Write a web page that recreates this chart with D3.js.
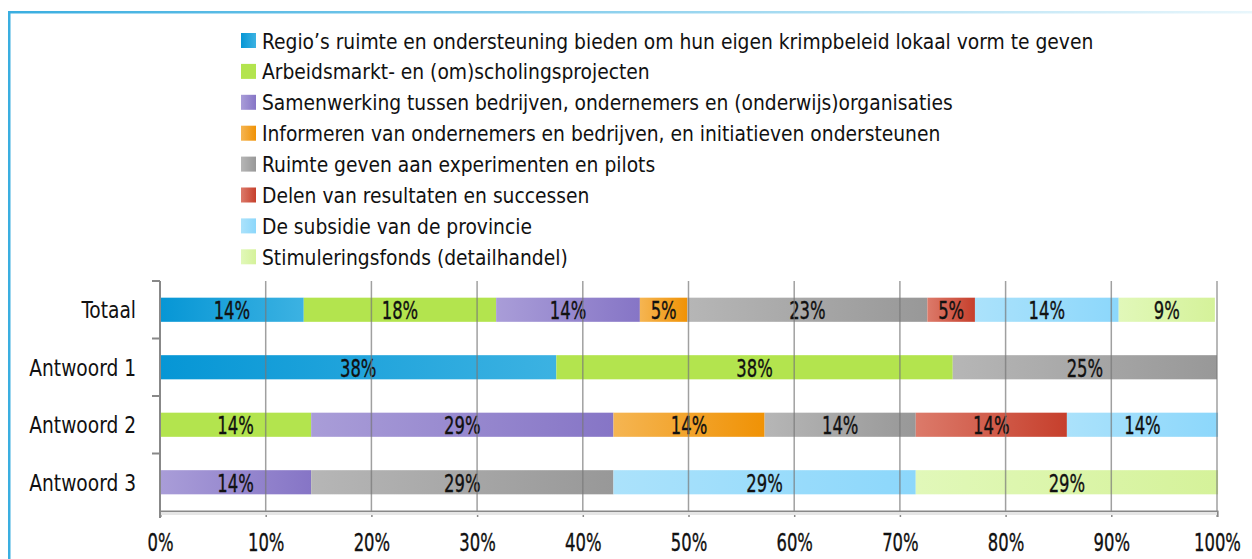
<!DOCTYPE html>
<html lang="en">
<head>
<meta charset="utf-8">
<title>Krimpbeleid</title>
<script src="https://cdn.jsdelivr.net/npm/d3@7"></script>
<style>
  body { margin: 0; background: #fff; }
  svg text { font-family: "DejaVu Sans Condensed", "DejaVu Sans", sans-serif; font-stretch: condensed; fill: #111; }
  svg text.num { stroke: #111; stroke-width: 0.35; }
</style>
</head>
<body>
<div id="chart"></div>
<script>
// categories (rows)
var categories = ["Totaal", "Antwoord 1", "Antwoord 2", "Antwoord 3"];

// series names (legend order = stack order)
var seriesNames = [
  "Regio\u2019s ruimte en ondersteuning bieden om hun eigen krimpbeleid lokaal vorm te geven",
  "Arbeidsmarkt- en (om)scholingsprojecten",
  "Samenwerking tussen bedrijven, ondernemers en (onderwijs)organisaties",
  "Informeren van ondernemers en bedrijven, en initiatieven ondersteunen",
  "Ruimte geven aan experimenten en pilots",
  "Delen van resultaten en successen",
  "De subsidie van de provincie",
  "Stimuleringsfonds (detailhandel)"
];

// percentages per series, one value per category
var regio        = [13.6, 37.5, 0,    0];
var arbeidsmarkt = [18.2, 37.5, 14.3, 0];
var samenwerking = [13.6, 0,    28.6, 14.3];
var informeren   = [4.5,  0,    14.3, 0];
var experimenten = [22.7, 25.0, 14.3, 28.6];
var delen        = [4.5,  0,    14.3, 0];
var subsidie     = [13.6, 0,    14.3, 28.6];
var stimulering  = [9.1,  0,    0,    28.6];

var seriesValues = [regio, arbeidsmarkt, samenwerking, informeren, experimenten, delen, subsidie, stimulering];

// x tick labels
var xTicks = [0, 10, 20, 30, 40, 50, 60, 70, 80, 90, 100];

// gradient colours [left, right]
var colors = [
  ["#0696d5", "#3cb2e2"],
  ["#b3e44e", "#b3e44e"],
  ["#a99dd8", "#8675c6"],
  ["#f5b552", "#f09205"],
  ["#b6b6b6", "#989898"],
  ["#dc7a6a", "#c63f2c"],
  ["#abe2fb", "#8cd7fb"],
  ["#e1f8b9", "#d5f29a"]
];

var W = 1252, H = 559;
var SX = 0.73; // horizontal squeeze for the narrow number labels

var svg = d3.select("#chart").append("svg").attr("width", W).attr("height", H);
var defs = svg.append("defs");

// frame
var fg = defs.append("linearGradient").attr("id", "frameTop").attr("x1", "0").attr("x2", "1");
fg.append("stop").attr("offset", "0").attr("stop-color", "#3aaee0");
fg.append("stop").attr("offset", "1").attr("stop-color", "#eaf7fc");
svg.append("rect").attr("x", 8).attr("y", 11).attr("width", W).attr("height", 2.5).attr("fill", "url(#frameTop)");
svg.append("rect").attr("x", 8).attr("y", 11).attr("width", 2.5).attr("height", H).attr("fill", "#3aaee0");

colors.forEach(function(c, i) {
  var g = defs.append("linearGradient").attr("id", "grad" + i).attr("x1", "0").attr("x2", "1");
  g.append("stop").attr("offset", "0").attr("stop-color", c[0]);
  g.append("stop").attr("offset", "1").attr("stop-color", c[1]);
});

var margin = { left: 160, right: 35, top: 281, bottom: 48 };
var x = d3.scaleLinear().domain([0, 100]).range([margin.left, W - margin.right]);
var y = d3.scaleBand().domain(categories).range([margin.top, H - margin.bottom]).paddingInner(0.58).paddingOuter(0.29);

// stacked data
var rows = categories.map(function(cat, ci) {
  var r = { cat: cat };
  seriesNames.forEach(function(s, si) { r[s] = seriesValues[si][ci]; });
  return r;
});
var stack = d3.stack().keys(seriesNames)(rows);

// bars
stack.forEach(function(layer, si) {
  var g = svg.append("g");
  layer.forEach(function(d) {
    var v = d[1] - d[0];
    if (v <= 0) return;
    g.append("rect")
      .attr("x", x(d[0]))
      .attr("y", y(d.data.cat))
      .attr("width", x(d[1]) - x(d[0]))
      .attr("height", y.bandwidth())
      .attr("fill", "url(#grad" + si + ")");
    g.append("text")
      .attr("class", "num")
      .attr("transform", "translate(" + ((x(d[0]) + x(d[1])) / 2) + "," + (y(d.data.cat) + y.bandwidth() / 2 + 9.5) + ") scale(" + SX + ",1)")
      .attr("text-anchor", "middle")
      .attr("font-size", 25)
      .text(Math.round(v) + "%");
  });
});

// gridlines over bars
svg.append("g").selectAll("line").data(xTicks.slice(1)).enter().append("line")
  .attr("x1", function(d) { return x(d); }).attr("x2", function(d) { return x(d); })
  .attr("y1", margin.top).attr("y2", H - margin.bottom)
  .attr("stroke", "#777").attr("stroke-opacity", 0.7).attr("stroke-width", 1.5);

// x axis
var xAxis = svg.append("g").attr("transform", "translate(0," + (H - margin.bottom) + ")")
  .call(d3.axisBottom(x).tickValues(xTicks).tickSize(6).tickFormat(function(d) { return d + "%"; }));
xAxis.select(".domain").attr("stroke", "#888").attr("stroke-width", 2);
xAxis.selectAll(".tick line").attr("stroke", "#888").attr("stroke-width", 1.5);
xAxis.selectAll(".tick text").attr("class", "num").attr("font-size", 25).attr("dy", 0).attr("y", 40)
  .attr("transform", "scale(" + SX + ",1)");
svg.append("rect").attr("x", margin.left).attr("y", H - margin.bottom + 1).attr("width", x(100) - margin.left).attr("height", 3).attr("fill", "#e6e6e6");

// y axis
var yAxis = svg.append("g").attr("transform", "translate(" + margin.left + ",0)")
  .call(d3.axisLeft(y).tickSize(0).tickPadding(0));
yAxis.select(".domain").remove();
yAxis.selectAll(".tick text").attr("font-size", 23).attr("dy", 0).attr("y", 8.5)
  .attr("x", -24 / 0.9).attr("transform", "scale(0.9,1)");
svg.append("line").attr("x1", margin.left).attr("x2", margin.left)
  .attr("y1", margin.top).attr("y2", H - margin.bottom + 7).attr("stroke", "#888").attr("stroke-width", 2);
var step = y.step();
svg.append("g").selectAll("line").data(d3.range(categories.length)).enter().append("line")
  .attr("x1", margin.left - 8).attr("x2", margin.left)
  .attr("y1", function(i) { return margin.top + i * step; })
  .attr("y2", function(i) { return margin.top + i * step; })
  .attr("stroke", "#888").attr("stroke-width", 2);

// legend
var legend = svg.append("g").attr("transform", "translate(241,33)");
seriesNames.forEach(function(s, i) {
  var row = legend.append("g").attr("transform", "translate(0," + (i * 30.9) + ")");
  row.append("rect").attr("width", 15).attr("height", 15).attr("fill", "url(#grad" + i + ")");
  row.append("text").attr("transform", "translate(21,15.5) scale(0.945,1)").attr("font-size", 22).text(s);
});
</script>
</body>
</html>
